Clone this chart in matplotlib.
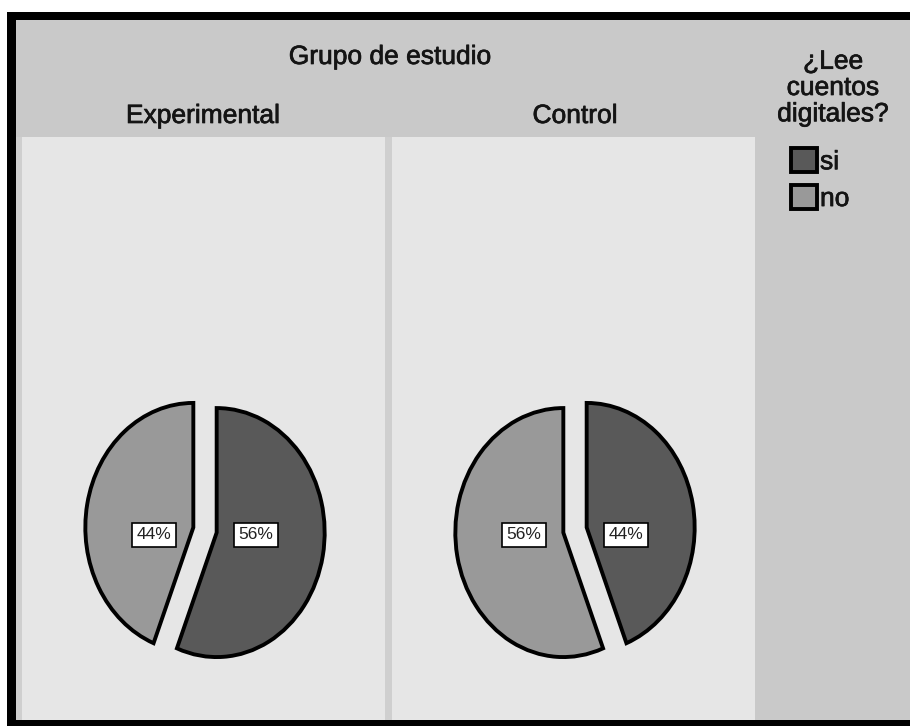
import matplotlib
matplotlib.use("Agg")
import matplotlib.pyplot as plt
import matplotlib.patheffects as pe
from matplotlib.patches import Rectangle

plt.rcParams['font.family'] = ['Liberation Sans', 'DejaVu Sans']

# data
groups = ['Experimental', 'Control']
categories = ['si', 'no']
pct_exp = [56, 44]
pct_ctl = [44, 56]
values = [pct_exp, pct_ctl]

title = 'Grupo de estudio'
legend_title = '¿Lee\ncuentos\ndigitales?'

W, H = 910, 726
dark = '#595959'
light = '#999999'
hdr = '#c9c9c9'
panel = '#e6e6e6'
txtc = '#141414'
heavy = [pe.Stroke(linewidth=0.5, foreground=txtc), pe.Normal()]

fig = plt.figure(figsize=(W / 100, H / 100), dpi=100)
fig.patch.set_facecolor('white')

# background in pixel coords
bg = fig.add_axes([0, 0, 1, 1])
bg.set_xlim(0, W)
bg.set_ylim(H, 0)
bg.axis('off')
bg.add_patch(Rectangle((7, 12), W, H, fc='black', ec='none'))
bg.add_patch(Rectangle((16, 20), W, 700, fc=hdr, ec='none'))
bg.add_patch(Rectangle((16, 137), 739, 583, fc='#cfcfcf', ec='none'))
bg.add_patch(Rectangle((22, 137), 363, 583, fc=panel, ec='none'))
bg.add_patch(Rectangle((392, 137), 363, 583, fc=panel, ec='none'))

hfont = dict(fontsize=19, color=txtc, ha='center', va='center',
             path_effects=heavy)
bg.text(390, 57, title, **hfont)
bg.text(203, 116, groups[0], **hfont)
bg.text(575, 116, groups[1], **hfont)
bg.text(833, 88, legend_title, linespacing=1.12, **hfont)

# pies
rx, ry = 108, 124.5
L = 1.3
centers = [(205, 530), (575, 530)]
wedges_first = None
for (cx, cy), vals in zip(centers, values):
    w = 2 * L * rx / W
    h = 2 * L * ry / H
    ax = fig.add_axes([cx / W - w / 2, (H - cy) / H - h / 2, w, h])
    wedges, texts, autotexts = ax.pie(
        vals, colors=[dark, light], startangle=90, counterclock=False,
        explode=[0.11, 0.11], pctdistance=0.37,
        autopct=lambda p: f'{p:.0f}%',
        wedgeprops=dict(edgecolor='black', linewidth=2.8),
        textprops=dict(fontsize=12.5, color='#222222'))
    for t in autotexts:
        t.set_bbox(dict(boxstyle='square,pad=0.25', fc='white', ec='black', lw=1.2))
        t.set_y(-0.04)
    ax.set_aspect('auto')
    ax.set_xlim(-L, L)
    ax.set_ylim(-L, L)
    ax.axis('off')
    if wedges_first is None:
        wedges_first = wedges

leg = fig.legend(wedges_first, categories,
                 loc='upper left', bbox_to_anchor=(791 / W, 1 - 148 / H),
                 frameon=False, prop=dict(size=19),
                 borderpad=0, borderaxespad=0, handlelength=1.0,
                 handleheight=1.05, handletextpad=0.1, labelspacing=0.4)
for txt in leg.get_texts():
    txt.set_color(txtc)
    txt.set_path_effects(heavy)

fig.savefig('out.png', dpi=100, facecolor=fig.get_facecolor())
